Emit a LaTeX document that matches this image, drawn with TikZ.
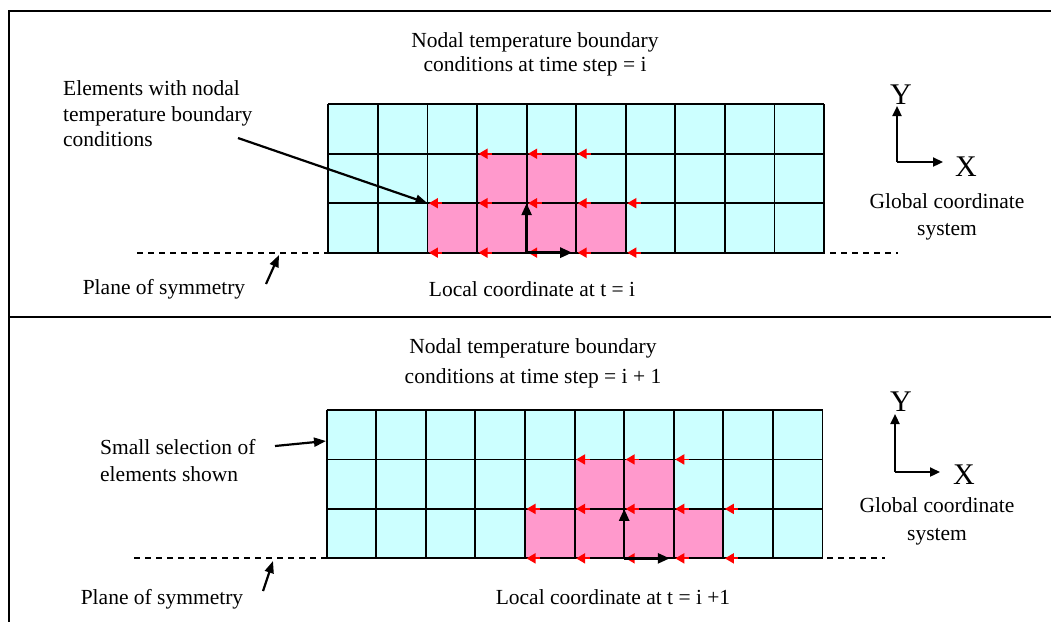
\documentclass[tikz,border=0pt]{standalone}
\usepackage{fontspec}
\setmainfont{Liberation Serif}
\usetikzlibrary{arrows.meta,calc}
\definecolor{cellcyan}{HTML}{CCFFFF}
\definecolor{cellpink}{HTML}{FF99CC}
\definecolor{bcred}{HTML}{FF0000}
\tikzset{
  txt/.style={inner sep=0pt,font=\fontsize{21.5}{24}\selectfont},
  big/.style={inner sep=0pt,font=\fontsize{30}{30}\selectfont},
  gridline/.style={line width=1.9pt,black},
  bcarrow/.style={line width=1.8pt,bcred,-{Triangle[length=9pt,width=10pt]}},
  localaxis/.style={line width=2.6pt,black,-{Triangle[length=12pt,width=10pt]}},
  globalaxis/.style={line width=2.2pt,black,-{Triangle[length=10pt,width=9pt]}},
  leader/.style={line width=2.2pt,black,-{Triangle[length=12pt,width=9pt]}},
  symline/.style={line width=1.6pt,black,dash pattern=on 6pt off 5pt},
  frameline/.style={line width=2pt,black}
}
% #1 prefix, #2 x0, #3 y0, #4 column offset of the pink block
\newcommand{\drawmesh}[4]{%
  \foreach \i in {0,...,10}{\foreach \j in {0,...,3}{%
    \coordinate (#1-\i-\j) at ({#2+\i*49.58},{#3+\j*49.45});}}
  \fill[cellcyan] (#1-0-0) rectangle (#1-10-3);
  \pgfmathtruncatemacro{\ka}{#4}\pgfmathtruncatemacro{\kb}{#4+1}%
  \pgfmathtruncatemacro{\kc}{#4+2}\pgfmathtruncatemacro{\kd}{#4+3}%
  \pgfmathtruncatemacro{\ke}{#4+4}%
  \fill[cellpink] (#1-\kb-1) rectangle (#1-\kd-2);
  \fill[cellpink] (#1-\ka-2) rectangle (#1-\ke-3);
  \foreach \i in {0,...,10}{\draw[gridline] (#1-\i-0) -- (#1-\i-3);}
  \foreach \j in {0,...,3}{\draw[gridline] (#1-0-\j) -- (#1-10-\j);}
  \foreach \i in {\kb,\kc,\kd}{\draw[bcarrow] ($(#1-\i-1)+(15,0)$) -- ($(#1-\i-1)+(1.5,0)$);}
  \foreach \j in {2,3}{\foreach \i in {\ka,\kb,\kc,\kd,\ke}{%
    \draw[bcarrow] ($(#1-\i-\j)+(15,0)$) -- ($(#1-\i-\j)+(1.5,0)$);}}
  \draw[localaxis] (#1-\kc-3) -- (#1-\kc-2);
  \draw[localaxis] (#1-\kc-3) -- ($(#1-\kd-3)+(-4,0)$);
}
\begin{document}
\begin{tikzpicture}[x=1pt,y=-1pt]
\useasboundingbox (0,0) rectangle (1051,622);
% frame
\draw[frameline] (1051,11) -- (9,11) -- (9,622);
\draw[frameline] (9,317) -- (1051,317);

% ---------------- top panel ----------------
\coordinate (symA) at (137,253);
\coordinate (symB) at (898,253);
\draw[symline] (symA) -- (symB);
\drawmesh{top}{328.3}{104.3}{2}
\node[txt,align=center] (title1) at (535,54) {Nodal temperature boundary\\conditions at time step = i};
\node[txt,align=left,anchor=west,font=\fontsize{21.5}{25.5}\selectfont] (elem) at (63,114) {Elements with nodal\\temperature boundary\\conditions};
\coordinate (elemtail) at (238,138);
\draw[leader] (elemtail) -- (top-2-2);
\node[txt] (plane1) at (164,289) {Plane of symmetry};
\coordinate (planetail1) at (266,284);
\coordinate (planetip1) at (279,255);
\draw[leader] (planetail1) -- (planetip1);
\node[txt] (local1) at (532,289) {Local coordinate at t = i};
\coordinate (go1) at (897,162);
\coordinate (gy1) at (897,106);
\coordinate (gx1) at (943,162);
\draw[globalaxis] (go1) -- (gy1);
\draw[globalaxis] (go1) -- (gx1);
\node[big] (Y1) at (901,95) {Y};
\node[big] (X1) at (966,167) {X};
\node[txt,align=center,font=\fontsize{21.5}{27}\selectfont] (glob1) at (947,216.5) {Global coordinate\\system};

% ---------------- bottom panel ----------------
\coordinate (symC) at (134,558);
\coordinate (symD) at (885,558);
\draw[symline] (symC) -- (symD);
\drawmesh{bot}{326.7}{410}{4}
\node[txt,align=center,font=\fontsize{21.5}{30}\selectfont] (title2) at (533,363) {Nodal temperature boundary\\conditions at time step = i + 1};
\node[txt,align=left,anchor=west,font=\fontsize{21.5}{27}\selectfont] (small) at (100,461) {Small selection of\\elements shown};
\coordinate (smalltail) at (275,446);
\coordinate (smalltip) at (326,441);
\draw[leader] (smalltail) -- (smalltip);
\node[txt] (plane2) at (162,599) {Plane of symmetry};
\coordinate (planetail2) at (263,591);
\coordinate (planetip2) at (273,561);
\draw[leader] (planetail2) -- (planetip2);
\node[txt] (local2) at (613,597) {Local coordinate at t = i +1};
\coordinate (go2) at (895,472);
\coordinate (gy2) at (895,414);
\coordinate (gx2) at (940,472);
\draw[globalaxis] (go2) -- (gy2);
\draw[globalaxis] (go2) -- (gx2);
\node[big] (Y2) at (901,402) {Y};
\node[big] (X2) at (964,475) {X};
\node[txt,align=center,font=\fontsize{21.5}{28}\selectfont] (glob2) at (937,521) {Global coordinate\\system};
\end{tikzpicture}
\end{document}
